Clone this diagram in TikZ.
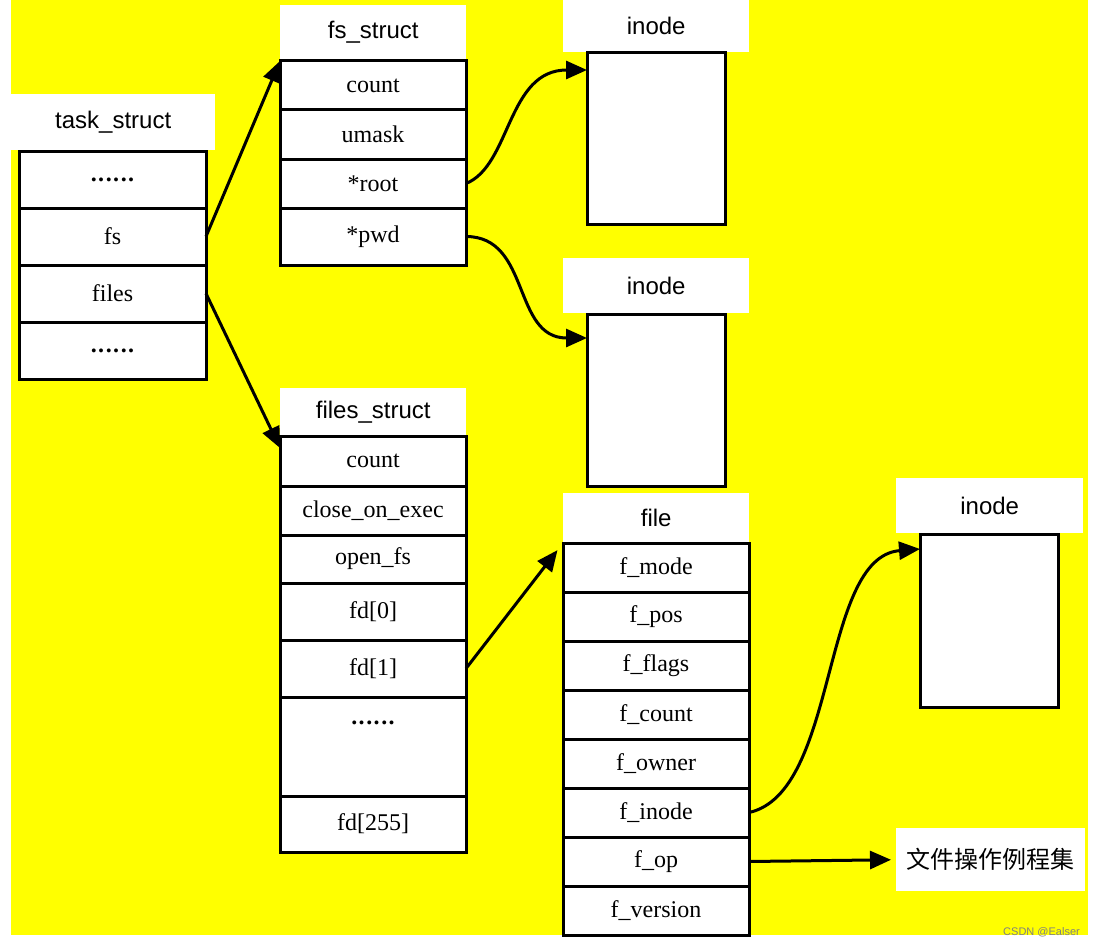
\documentclass[tikz,border=0pt]{standalone}
\usepackage{fontspec}
\setmainfont{Liberation Serif}
\setsansfont{Liberation Sans}
\newfontfamily\cjk{Noto Sans CJK SC}
\usetikzlibrary{arrows.meta,positioning,calc}
\definecolor{bgyellow}{RGB}{255,255,0}
\newcommand{\sixdots}{\raisebox{-2pt}{\bfseries .\kern1.5pt.\kern1.5pt.\kern1.5pt.\kern1.5pt.\kern1.5pt.}}

\begin{document}
\begin{tikzpicture}[x=1pt,y=-1pt,node distance=0pt,
font=\fontsize{24}{28}\selectfont,
title/.style={fill=white,inner sep=0pt,minimum width=186pt,anchor=north west,font=\sffamily\fontsize{24}{28}\selectfont},
cell/.style={draw,line width=3pt,fill=white,inner sep=0pt,outer sep=0pt,minimum width=186pt,minimum height=49pt},
inodebox/.style={draw,line width=3pt,fill=white,outer sep=0pt,minimum width=138pt,anchor=north west},
arrow/.style={-{Triangle[length=21pt,width=18pt]},line width=3pt}]
\useasboundingbox (0,0) rectangle (1094,947);
\fill[bgyellow] (11,0) rectangle (1088,935);

% task_struct
\node[title,minimum width=204pt,minimum height=56pt] (tasklbl) at (11,94) {task\_struct};
\node[cell,minimum width=187pt,minimum height=57pt,anchor=north west] (tdots1) at (19,151) {\sixdots};
\node[cell,minimum width=187pt,minimum height=57pt,below=of tdots1] (tfs) {fs};
\node[cell,minimum width=187pt,minimum height=57pt,below=of tfs] (tfiles) {files};
\node[cell,minimum width=187pt,minimum height=57pt,below=of tfiles] (tdots2) {\sixdots};

% fs_struct
\node[title,minimum height=55pt] (fslbl) at (280,5) {fs\_struct};
\node[cell,anchor=north west] (fscount) at (280,61) {count};
\node[cell,below=of fscount] (fsumask) {umask};
\node[cell,below=of fsumask] (fsroot) {*root};
\node[cell,minimum height=57pt,below=of fsroot] (fspwd) {*pwd};

% files_struct
\node[title,minimum height=47pt] (fileslbl) at (280,388) {files\_struct};
\node[cell,minimum height=50pt,anchor=north west] (fcount) at (280,436) {count};
\node[cell,below=of fcount] (fclose) {close\_on\_exec};
\node[cell,minimum height=48pt,below=of fclose] (fopen) {open\_fs};
\node[cell,minimum height=57pt,below=of fopen] (fd0) {fd[0]};
\node[cell,minimum height=57pt,below=of fd0] (fd1) {fd[1]};
\node[cell,minimum height=99pt,text height=25pt,text depth=74pt,below=of fd1] (fdots) {\sixdots};
\node[cell,minimum height=56pt,below=of fdots] (fd255) {fd[255]};

% file
\node[title,minimum height=50pt] (filelbl) at (563,493) {file};
\node[cell,anchor=north west] (fmode) at (563,543) {f\_mode};
\node[cell,below=of fmode] (fpos) {f\_pos};
\node[cell,below=of fpos] (fflags) {f\_flags};
\node[cell,below=of fflags] (fcnt) {f\_count};
\node[cell,below=of fcnt] (fowner) {f\_owner};
\node[cell,below=of fowner] (finode) {f\_inode};
\node[cell,below=of finode] (fop) {f\_op};
\node[cell,below=of fop] (fversion) {f\_version};

% inodes
\node[title,minimum height=52pt] (inodeAlbl) at (563,0) {inode};
\node[inodebox,minimum height=171pt] (inodeA) at (587,53) {};
\node[title,minimum height=55pt] (inodeBlbl) at (563,258) {inode};
\node[inodebox,minimum height=172pt] (inodeB) at (587,314) {};
\node[title,minimum width=187pt,minimum height=55pt] (inodeClbl) at (896,478) {inode};
\node[inodebox,minimum height=173pt] (inodeC) at (920,534) {};
\node[title,minimum width=189pt,minimum height=63pt,font=\cjk\fontsize{24}{28}\selectfont] (opslbl) at (896,828) {文件操作例程集};

\node[anchor=east,inner sep=0pt,text=gray,font=\sffamily\fontsize{11}{12}\selectfont] (mark) at (1080,932) {CSDN @Ealser};

% pointers
\draw[arrow] (tfs.east) -- (fscount.north west);
\draw[arrow] (tfiles.east) -- ($(fcount.north west)+(0,12)$);
\draw[arrow] (fsroot.east) .. controls +(45,-18) and +(-80,0) .. ($(inodeA.north west)+(0,17)$);
\draw[arrow] (fspwd.east) .. controls +(65,0) and +(-75,0) .. ($(inodeB.north west)+(0,24)$);
\draw[arrow,shorten >=9pt] (fd1.east) -- (fmode.north west);
\draw[arrow] (finode.east) .. controls +(90,-20) and +(-100,8) .. ($(inodeC.north west)+(0,15)$);
\draw[arrow,shorten >=5pt] (fop.east) -- (opslbl.west);
\end{tikzpicture}
\end{document}
